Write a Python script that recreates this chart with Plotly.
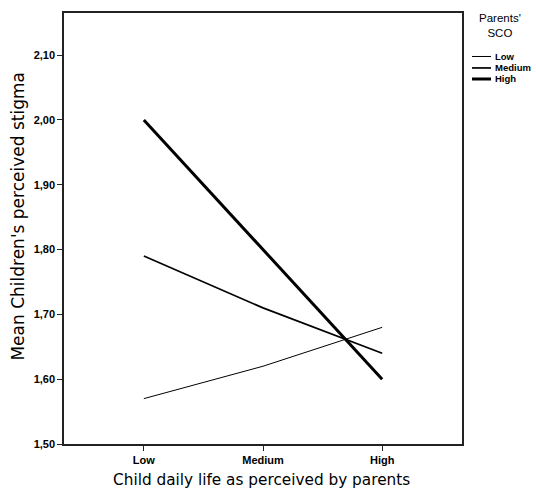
import plotly.graph_objects as go

# ---- data ----
categories = ["Low", "Medium", "High"]
series_names = ["Low", "Medium", "High"]
low_sco = [1.57, 1.62, 1.68]
medium_sco = [1.79, 1.71, 1.64]
high_sco = [2.00, 1.80, 1.60]
y_ticks = [1.50, 1.60, 1.70, 1.80, 1.90, 2.00, 2.10]

series_values = [low_sco, medium_sco, high_sco]
widths = [1.0, 1.7, 3.0]

W, H = 536, 490
ML, MR, MT, MB = 64, 74, 11, 46
PW = W - ML - MR
PH = H - MT - MB

def px_x(px):
    return (px - ML) / PW

def px_y(py):
    return (H - MB - py) / PH

fig = go.Figure()
for name, vals, w in zip(series_names, series_values, widths):
    fig.add_trace(go.Scatter(
        x=categories, y=vals, mode="lines", name=name,
        line=dict(color="black", width=w), showlegend=False,
    ))

tick_font = dict(family="Liberation Sans, Arial, sans-serif", size=11, color="black", weight="bold")

fig.update_layout(
    width=W, height=H,
    margin=dict(l=ML, r=MR, t=MT, b=MB),
    paper_bgcolor="white", plot_bgcolor="white",
    separators=",.",
    xaxis=dict(
        type="category", categoryorder="array", categoryarray=categories,
        range=[-0.67, 2.67],
        showline=True, mirror=True, linecolor="#222", linewidth=1.5,
        ticks="outside", ticklen=5, tickwidth=1, tickcolor="#222",
        showgrid=False, zeroline=False, tickfont=tick_font,
    ),
    yaxis=dict(
        range=[1.5, 2.165],
        tickvals=y_ticks, tickformat=".2f",
        showline=True, mirror=True, linecolor="#222", linewidth=1.5,
        ticks="outside", ticklen=5, tickwidth=1, tickcolor="#222",
        showgrid=False, zeroline=False, tickfont=tick_font,
    ),
)

title_font = "DejaVu Sans, sans-serif"
# axis titles
fig.add_annotation(text="Child daily life as perceived by parents",
                   xref="paper", yref="paper", x=px_x(261), y=px_y(480),
                   showarrow=False, xanchor="center", yanchor="middle",
                   font=dict(family=title_font, size=15.3, color="black"))
fig.add_annotation(text="Mean Children's perceived stigma",
                   xref="paper", yref="paper", x=px_x(18), y=px_y(215.5),
                   showarrow=False, xanchor="center", yanchor="middle", textangle=-90,
                   font=dict(family=title_font, size=17, color="black"))

# legend (manual)
fig.add_annotation(text="Parents'<br>SCO", xref="paper", yref="paper",
                   x=px_x(500), y=px_y(23.5), showarrow=False,
                   xanchor="center", yanchor="middle",
                   font=dict(family="Liberation Sans, Arial, sans-serif", size=11.5, color="black"))
leg_y = [54.7, 66.2, 77.3]
for name, w, ly in zip(series_names, widths, leg_y):
    fig.add_shape(type="line", xref="paper", yref="paper",
                  x0=px_x(472), x1=px_x(491), y0=px_y(ly), y1=px_y(ly),
                  line=dict(color="black", width=w))
    fig.add_annotation(text=name, xref="paper", yref="paper",
                       x=px_x(493), y=px_y(ly), showarrow=False,
                       xanchor="left", yanchor="middle",
                       font=dict(family="Liberation Sans, Arial, sans-serif", size=9.5,
                                 color="black", weight="bold"))

fig.write_html("out.html", config={"displayModeBar": False},
               post_script="document.body.style.margin='0';document.body.style.overflow='hidden';")
